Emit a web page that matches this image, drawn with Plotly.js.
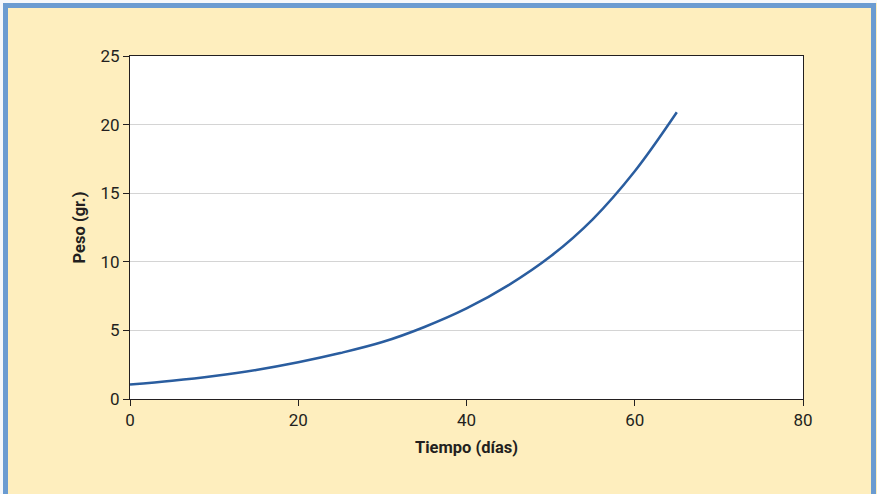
<!DOCTYPE html>
<html>
<head>
<meta charset="utf-8">
<script src="https://cdn.plot.ly/plotly-3.0.1.min.js"></script>
<style>
  html, body { margin: 0; padding: 0; background: #ffffff; }
  #wrap { position: relative; width: 877px; height: 494px; overflow: hidden; }
  #chart { position: absolute; left: 0; top: 0; width: 877px; height: 494px; }
  #frame { position: absolute; left: 3px; top: 3px; width: 863px; height: 510px;
           border: 5px solid #6A9BD1; border-bottom: none; pointer-events: none; }
  #edge { position: absolute; left: 0; top: 0; width: 877px; height: 494px; box-sizing: border-box;
          border-top: 3px solid #f4f7fb; border-left: 3px solid #f4f7fb; pointer-events: none; }
</style>
</head>
<body>
<div id="wrap">
  <div id="chart"></div>
  <div id="frame"></div>
  <div id="edge"></div>
</div>
<script>
const dias = [0, 5, 10, 15, 20, 25, 30, 35, 40, 45, 50, 55, 60, 65];
const peso = [1.05, 1.33, 1.68, 2.12, 2.68, 3.35, 4.15, 5.25, 6.6, 8.3, 10.4, 13.1, 16.6, 20.9];
const xTicks = [0, 20, 40, 60, 80];
const yTicks = [0, 5, 10, 15, 20, 25];
const xTitle = 'Tiempo (días)';
const yTitle = 'Peso (gr.)';

const ink = '#231f20';
const tickFont = { family: 'Roboto, "DejaVu Sans", sans-serif', size: 17, color: ink };
const titleFont = { family: 'Roboto, "DejaVu Sans", sans-serif', size: 16.5, color: ink, weight: 'bold' };

Plotly.newPlot('chart', [{
  x: dias, y: peso, type: 'scatter', mode: 'lines',
  line: { color: '#2a5d9f', width: 2.5, shape: 'spline', smoothing: 1 },
  hoverinfo: 'none'
}], {
  width: 877, height: 494,
  margin: { l: 130, r: 74, t: 56, b: 95 },
  paper_bgcolor: '#FEEEBE',
  plot_bgcolor: '#ffffff',
  showlegend: false,
  xaxis: {
    range: [0, 80], tickvals: xTicks, ticktext: xTicks.map(String),
    showgrid: false, zeroline: false,
    showline: true, linecolor: ink, linewidth: 1, mirror: true,
    ticks: 'outside', ticklen: 6, tickcolor: ink, tickwidth: 1,
    tickfont: tickFont,
    title: { text: '<b>' + xTitle + '</b>', font: titleFont, standoff: 12 }
  },
  yaxis: {
    range: [0, 25], tickvals: yTicks, ticktext: yTicks.map(String),
    showgrid: true, gridcolor: '#d4d4d4', gridwidth: 1, zeroline: false,
    showline: true, linecolor: ink, linewidth: 1, mirror: true,
    ticks: 'outside', ticklen: 6, tickcolor: ink, tickwidth: 1,
    tickfont: tickFont,
    title: { text: '<b>' + yTitle + '</b>', font: titleFont, standoff: 10 }
  }
}, { staticPlot: true });
</script>
</body>
</html>
